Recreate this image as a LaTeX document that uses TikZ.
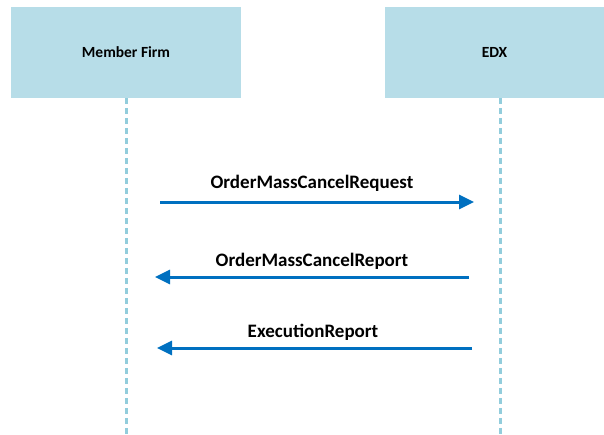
\documentclass[tikz,border=0pt]{standalone}
\usepackage{fontspec}
\setmainfont{Carlito}
\usetikzlibrary{arrows.meta}
\begin{document}
\begin{tikzpicture}[x=1pt,y=-1pt,
  actor/.style={fill=boxblue,draw=none,minimum width=230pt,minimum height=91pt,font=\bfseries\fontsize{15.5}{18}\selectfont,inner sep=0pt},
  life/.style={draw=lifeblue,line width=3pt,dash pattern=on 6pt off 4pt},
  msg/.style={draw=msgblue,line width=3pt,-{Triangle[length=15pt,width=14pt]}},
  lbl/.style={font=\bfseries\fontsize{19}{22}\selectfont,inner sep=0pt}]
\definecolor{boxblue}{HTML}{B7DDE8}
\definecolor{lifeblue}{HTML}{92CDDC}
\definecolor{msgblue}{HTML}{0070C0}
\useasboundingbox (0,0) rectangle (604,434);
\node[actor] (mf) at (126,52.5) {Member Firm};
\node[actor,minimum width=219pt] (edx) at (494.5,52.5) {EDX};
\coordinate (mfb) at (126,434);
\coordinate (edxb) at (500,434);
\draw[life] (126,98) -- (mfb);
\draw[life] (500,98) -- (edxb);
\coordinate (a1s) at (160,202); \coordinate (a1e) at (474,202);
\coordinate (a2s) at (469,277); \coordinate (a2e) at (155,277);
\coordinate (a3s) at (472,348); \coordinate (a3e) at (157,348);
\draw[msg] (a1s) -- (a1e);
\draw[msg] (a2s) -- (a2e);
\draw[msg] (a3s) -- (a3e);
\node[lbl] (l1) at (312,183) {OrderMassCancelRequest};
\node[lbl] (l2) at (312,261) {OrderMassCancelReport};
\node[lbl] (l3) at (313,332) {ExecutionReport};
\end{tikzpicture}
\end{document}
